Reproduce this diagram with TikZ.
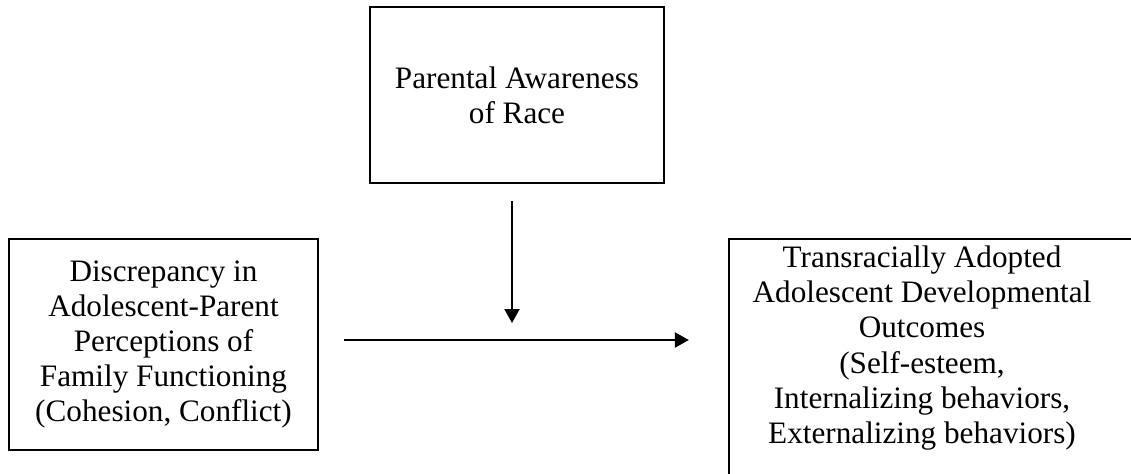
\documentclass[tikz,border=0pt]{standalone}
\usepackage{fontspec}
\setmainfont{Liberation Serif}
\usetikzlibrary{arrows.meta}
\newcommand{\diagfont}{\fontsize{15.6pt}{17.6pt}\selectfont}
\begin{document}
\begin{tikzpicture}[x=0.5pt,y=-0.5pt,
  box/.style={draw, line width=1.1pt, inner sep=0pt, align=center, font=\diagfont},
  boxtext/.style={inner sep=0pt, align=center, font=\diagfont},
  arr/.style={line width=1pt, -{Triangle[length=7pt,width=7.5pt]}}]
\useasboundingbox (0,0) rectangle (1131,473);
\clip (0,0) rectangle (1131,473);
\node[box, minimum width=147pt, minimum height=88pt] (aware) at (517,95)
  {Parental Awareness\\of Race};
\node[box, minimum width=154.5pt, minimum height=105.5pt] (disc) at (163.5,344.5)
  {Discrepancy in\\Adolescent-Parent\\Perceptions of\\Family Functioning\\(Cohesion, Conflict)};
\node[box, minimum width=206pt, minimum height=123pt] (outc) at (935,362) {};
\node[boxtext] (outctext) at (922,348)
  {Transracially Adopted\\Adolescent Developmental\\Outcomes\\(Self-esteem,\\Internalizing behaviors,\\Externalizing behaviors)};
\coordinate (mid) at (512,340);
\draw[arr, shorten <=12.5pt, shorten >=19.5pt] (disc.east |- mid) -- (outc.west |- mid);
\draw[arr, shorten <=8.5pt, shorten >=8.5pt] (aware.south -| mid) -- (mid);
\end{tikzpicture}
\end{document}
